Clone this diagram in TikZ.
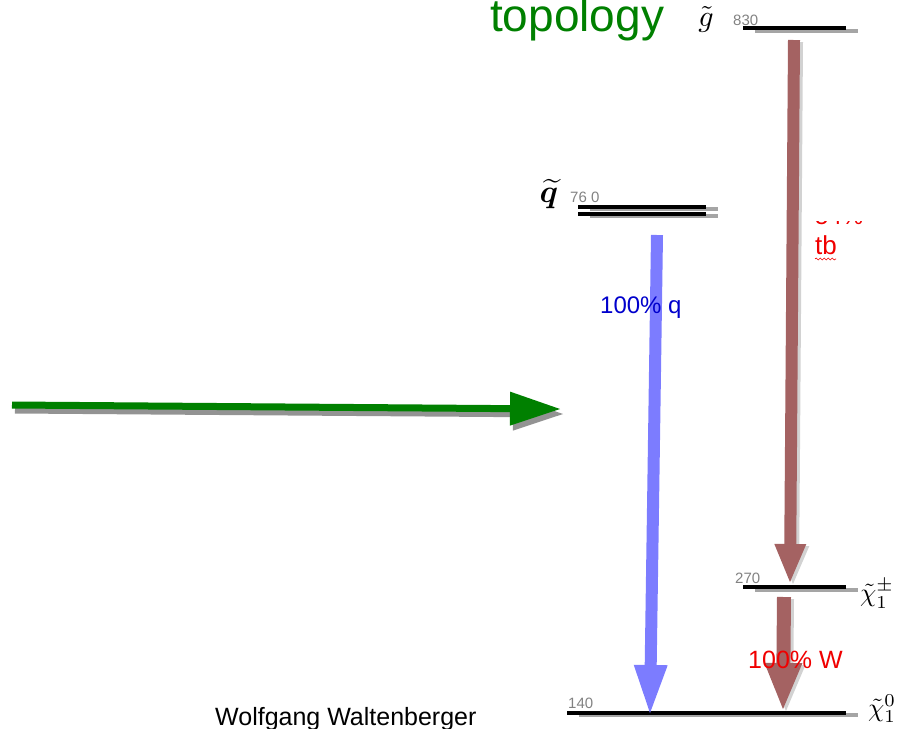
\documentclass[tikz,border=0pt]{standalone}
\usepackage{graphicx}
\usepackage{bm}
\usepackage{fontspec}
\setmainfont{Liberation Sans}
\usetikzlibrary{arrows.meta,decorations.pathmorphing}
\definecolor{topgreen}{RGB}{0,128,0}
\definecolor{arrbrown}{RGB}{164,98,98}
\definecolor{arrblue}{RGB}{124,124,255}
\definecolor{txtblue}{RGB}{0,0,204}
\definecolor{txtred}{RGB}{240,0,0}
\definecolor{lvlgray}{RGB}{165,165,165}
\definecolor{numgray}{RGB}{130,130,130}
\newcommand{\bigmath}[2]{\scalebox{#1}{#2}}
\tikzset{
  level/.style={line width=4.2pt, black},
  levelshadow/.style={line width=4.2pt, lvlgray},
  numlabel/.style={anchor=base west, inner sep=0pt, text=numgray, font=\fontsize{15}{15}\selectfont},
  partlabel/.style={inner sep=0pt},
  decaytxt/.style={anchor=base west, inner sep=0pt},
  blockarrow/.style args={#1/#2/#3}{line width=#1pt, -{Triangle[width=#2pt,length=#3pt,line width=0pt]}},
}
\begin{document}
\begin{tikzpicture}[x=1pt,y=-1pt]
\useasboundingbox (0,0) rectangle (906,729);
% level coordinates
\coordinate (gl) at (743,28);  \coordinate (gr) at (846,28);
\coordinate (qal) at (578,207); \coordinate (qar) at (706,207);
\coordinate (qbl) at (578,214); \coordinate (qbr) at (706,214);
\coordinate (cl) at (743,587); \coordinate (cr) at (846,587);
\coordinate (nl) at (567,713); \coordinate (nr) at (846,713);
% arrow end points
\coordinate (gtop) at (794,40);  \coordinate (gbot) at (790,582);
\coordinate (qtop) at (657,235); \coordinate (qbot) at (650,713);
\coordinate (ctop) at (784,597); \coordinate (cbot) at (783,709);
\coordinate (ga) at (12,405);    \coordinate (gb) at (560,409);
% shadows of levels
\draw[levelshadow] ([shift={(12,3)}]gl) -- ([shift={(12,3)}]gr);
\draw[levelshadow] ([shift={(12,3)}]cl) -- ([shift={(12,3)}]cr);
\draw[levelshadow] ([shift={(12,2)}]nl) -- ([shift={(12,2)}]nr);
\draw[levelshadow] ([shift={(12,2)}]qal) -- ([shift={(12,2)}]qar);
\draw[levelshadow] ([shift={(12,2)}]qbl) -- ([shift={(12,2)}]qbr);
% levels
\draw[level] (gl) -- (gr);
\draw[level] (qal) -- (qar);
\draw[level] (qbl) -- (qbr);
\draw[level] (cl) -- (cr);
\draw[level] (nl) -- (nr);
% arrow shadows
\draw[blockarrow=12/32/38, gray!35] ([shift={(3,2)}]gtop) -- ([shift={(3,2)}]gbot);
\draw[blockarrow=14/38/46, gray!35] ([shift={(3,2)}]ctop) -- ([shift={(3,2)}]cbot);
\draw[blockarrow=7/34/50, gray!85] ([shift={(3,5)}]ga) -- ([shift={(3,5)}]gb);
% arrows
\draw[blockarrow=12/32/38, arrbrown] (gtop) -- (gbot);
\draw[blockarrow=14/38/46, arrbrown] (ctop) -- (cbot);
\draw[blockarrow=12/34/48, arrblue] (qtop) -- (qbot);
\draw[blockarrow=7/34/50, topgreen] (ga) -- (gb);
% labels
\node[anchor=base west, inner sep=0pt, text=topgreen, font=\fontsize{46}{46}\selectfont] (title) at (490,31) {topology};
\node[partlabel] (glab) at (706,19) {\bigmath{3.0}{$\tilde{g}$}};
\node[numlabel] (n830) at (733,25) {830};
\node[partlabel] (qlab) at (549,194) {\bigmath{3.2}{$\bm{\widetilde{q}}$}};
\node[numlabel] (n760) at (570,202) {76 0};
\node[numlabel] (n270) at (735,583) {270};
\node[numlabel] (n140) at (568,708) {140};
\node[partlabel] (clab) at (877,594) {\bigmath{2.6}{$\tilde{\chi}^{\pm}_{1}$}};
\node[partlabel] (nlab) at (882,709) {\bigmath{2.6}{$\tilde{\chi}^{0}_{1}$}};
\node[decaytxt, text=txtblue, font=\fontsize{24}{24}\selectfont] (qdec) at (600,313) {100\% q};
\node[decaytxt, text=txtred, font=\fontsize{25}{25}\selectfont] (wdec) at (748,668) {100\% W};
\node[decaytxt, text=txtred, font=\fontsize{26}{26}\selectfont] (tbdec) at (815,254) {tb};
\begin{scope}
  \clip (805,221) rectangle (880,228);
  \node[decaytxt, text=txtred, font=\fontsize{24}{24}\selectfont] (pct) at (815,224) {54\%};
\end{scope}
\draw[txtred, line width=0.6pt, decorate, decoration={snake, amplitude=1pt, segment length=4pt}] (815,259) -- (836,259);
\node[decaytxt, font=\fontsize{25}{25}\selectfont] (author) at (215,725) {Wolfgang Waltenberger};
\end{tikzpicture}
\end{document}
